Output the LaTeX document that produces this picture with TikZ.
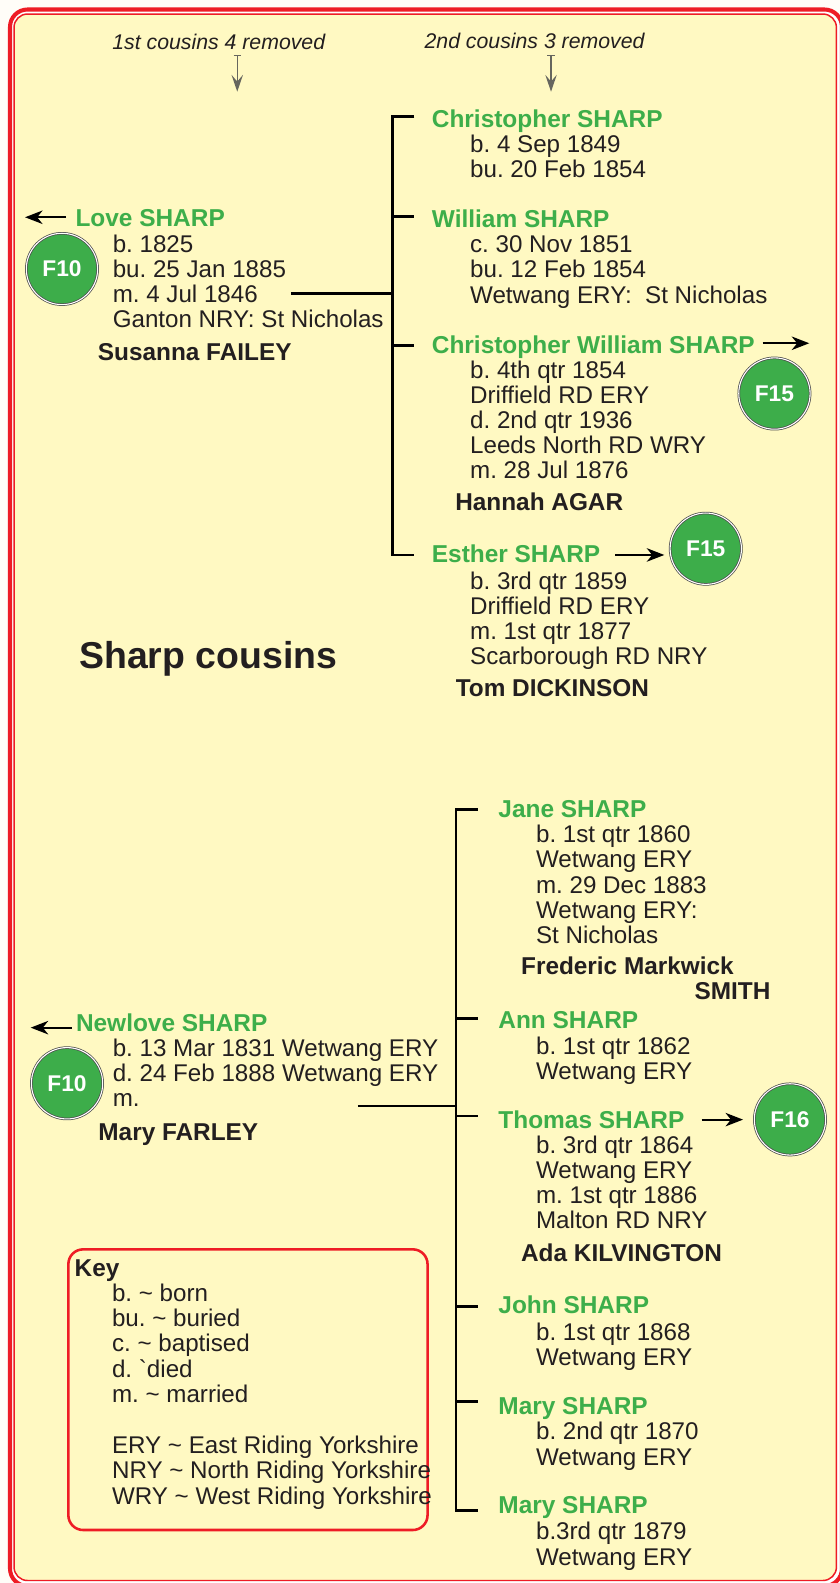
\documentclass[tikz,border=0pt]{standalone}
\usepackage{fontspec}
\setmainfont{Liberation Sans}
\newfontfamily\plainfont{Liberation Sans}
\usetikzlibrary{arrows.meta}
\definecolor{outbg}{HTML}{FFFDF8}
\definecolor{paper}{HTML}{FFF9C2}
\definecolor{bred}{HTML}{EE1C25}
\definecolor{namegreen}{HTML}{3DAE4A}
\definecolor{ink}{HTML}{231F20}
\definecolor{cfill}{HTML}{3DAD4A}
\definecolor{garrow}{HTML}{66665E}
\newcommand{\mylines}[1]{\begin{tabular}[t]{@{}l@{}}#1\end{tabular}}
\frenchspacing
\begin{document}
\frenchspacing
\begin{tikzpicture}[x=0.75pt,y=-0.75pt,
  txt/.style={anchor=base west, inner sep=0pt, outer sep=0pt, text=ink,
    font=\fontsize{17.95pt}{18.7pt}\selectfont},
  namestyle/.style={txt, text=namegreen, font=\fontsize{18.15pt}{18.7pt}\selectfont\bfseries},
  spousestyle/.style={txt, font=\fontsize{18.1pt}{18.7pt}\selectfont\bfseries},
  headstyle/.style={txt, font=\fontsize{15.8pt}{18pt}\selectfont\itshape},
  fcirc/.style={circle, fill=cfill, draw=black!70, double=white, double distance=0.8pt,
    line width=0.55pt, minimum size=53pt, inner sep=0pt, text=white,
    font=\fontsize{16.9pt}{18pt}\selectfont\bfseries},
  bracket/.style={draw=black, line width=1.9pt},
  link/.style={draw=black, line width=1.9pt},
  famarrow/.style={draw=black, line width=1.6pt, -{Stealth[length=13pt,width=10pt,inset=4pt]}},
  genarrow/.style={draw=garrow, line width=1pt,
    {Bar[width=5.5pt]}-{Stealth[length=12.5pt,width=8.5pt,inset=5pt]}}
]
\useasboundingbox (0,0) rectangle (832,1568);
\clip (0,0) rectangle (832,1568);
\fill[outbg] (0,0) rectangle (832,1568);
% border
\filldraw[fill=white, draw=bred, line width=3pt, rounded corners=13pt] (9.9,9.4) rectangle (834,1571);
\filldraw[fill=paper, draw=bred, line width=1.1pt, rounded corners=10pt] (13.9,13.9) rectangle (828.5,1565.5);

% headers
\node[headstyle] (h1) at (111.3,48.9) {1st cousins 4 removed};
\node[headstyle] (h2) at (420.6,47.9) {2nd cousins 3 removed};
\coordinate (h1a) at (235,54.5);
\coordinate (h1b) at (235,90.8);
\coordinate (h2a) at (545.8,54.5);
\coordinate (h2b) at (545.8,90.8);
\draw[genarrow] (h1a) -- (h1b);
\draw[genarrow] (h2a) -- (h2b);

% title
\node[txt, font=\fontsize{27.8pt}{30pt}\selectfont\bfseries] (title) at (78.5,662) {Sharp cousins};

% ---------------- family 1 ----------------
\node[namestyle] (love) at (74.8,224.5) {Love SHARP};
\node[txt] (loved) at (111.7,249.9) {\mylines{b. 1825\\bu. 25 Jan 1885\\m. 4 Jul 1846\\Ganton NRY: St Nicholas}};
\node[spousestyle] (susanna) at (97,357) {Susanna FAILEY};
\node[fcirc] (f10a) at (61.4,266.4) {F10};
\coordinate (lovea) at (65.4,215.2);
\coordinate (loveb) at (24.8,215.2);
\draw[famarrow] (lovea) -- (loveb);

\coordinate (m1) at (288,290.5);
\coordinate (v1) at (389,290.5);
\draw[link] (m1) -- (v1);
\coordinate (b1t) at (389,115.6);
\coordinate (b1b) at (389,549.7);
\draw[bracket] (410.4,115.6) -- (b1t) -- (b1b) -- (410.4,549.7);
\draw[bracket] (389,214.6) -- (410.4,214.6);
\draw[bracket] (389,342.4) -- (410.4,342.4);

\node[namestyle] (chris) at (427.8,126.1) {Christopher SHARP};
\node[txt] (chrisd) at (465.7,151.2) {\mylines{b. 4 Sep 1849\\bu. 20 Feb 1854}};

\node[namestyle] (will) at (427.8,225.2) {William SHARP};
\node[txt] (willd) at (465.7,250.3) {\mylines{c. 30 Nov 1851\\bu. 12 Feb 1854\\Wetwang ERY:\ \ St Nicholas}};

\node[namestyle] (cw) at (427.8,350) {Christopher William SHARP};
\node[txt] (cwd) at (465.7,374.7) {\mylines{b. 4th qtr 1854\\Driffield RD ERY\\d. 2nd qtr 1936\\Leeds North RD WRY\\m. 28 Jul 1876}};
\node[spousestyle] (hannah) at (451,505.2) {Hannah AGAR};
\node[fcirc] (f15a) at (767.1,389.8) {F15};
\coordinate (cwa) at (755.4,340);
\coordinate (cwb) at (801.6,340);
\draw[famarrow] (cwa) -- (cwb);

\node[namestyle] (esther) at (427.8,557.5) {Esther SHARP};
\node[txt] (estherd) at (465.7,583.7) {\mylines{b. 3rd qtr 1859\\Driffield RD ERY\\m. 1st qtr 1877\\Scarborough RD NRY}};
\node[spousestyle] (tom) at (451.5,689.4) {Tom DICKINSON};
\node[fcirc] (f15b) at (699.1,543.5) {F15};
\coordinate (esa) at (609.2,549.7);
\coordinate (esb) at (658,549.7);
\draw[famarrow] (esa) -- (esb);

% ---------------- family 2 ----------------
\node[namestyle] (newlove) at (75.3,1021.9) {Newlove SHARP};
\node[txt] (newloved) at (111.7,1046.6) {\mylines{b. 13 Mar 1831 Wetwang ERY\\d. 24 Feb 1888 Wetwang ERY\\m.}};
\node[spousestyle] (maryf) at (97.5,1129.2) {Mary FARLEY};
\node[fcirc] (f10b) at (66.4,1073) {F10};
\coordinate (nla) at (71,1017.9);
\coordinate (nlb) at (30.4,1017.9);
\draw[famarrow] (nla) -- (nlb);

\coordinate (m2) at (354.6,1095.5);
\coordinate (v2) at (451.7,1095.5);
\draw[link] (m2) -- (v2);
\coordinate (b2t) at (451.7,802);
\coordinate (b2b) at (451.7,1496.3);
\draw[bracket] (473,802) -- (b2t) -- (b2b) -- (473,1496.3);
\draw[bracket] (451.7,1009) -- (473,1009);
\draw[bracket] (451.7,1105.4) -- (473,1105.4);
\draw[bracket] (451.7,1294.2) -- (473,1294.2);
\draw[bracket] (451.7,1388.3) -- (473,1388.3);

\node[namestyle] (jane) at (493.7,809.5) {Jane SHARP};
\node[txt] (janed) at (531,834.7) {\mylines{b. 1st qtr 1860\\Wetwang ERY\\m. 29 Dec 1883\\Wetwang ERY:\\St Nicholas}};
\node[spousestyle] (fred) at (516.2,965.7) {Frederic Markwick};
\node[spousestyle] (smith) at (688,990.5) {SMITH};

\node[namestyle] (ann) at (493.7,1018.5) {Ann SHARP};
\node[txt] (annd) at (531,1044) {\mylines{b. 1st qtr 1862\\Wetwang ERY}};

\node[namestyle] (thomas) at (493.7,1117.6) {Thomas SHARP};
\node[txt] (thomasd) at (531,1142.4) {\mylines{b. 3rd qtr 1864\\Wetwang ERY\\m. 1st qtr 1886\\Malton RD NRY}};
\node[spousestyle] (ada) at (516.2,1249.7) {Ada KILVINGTON};
\node[fcirc] (f16) at (782.5,1108.8) {F16};
\coordinate (tha) at (695,1109);
\coordinate (thb) at (736,1109);
\draw[famarrow] (tha) -- (thb);

\node[namestyle] (john) at (493.7,1301.5) {John SHARP};
\node[txt] (johnd) at (531,1327.9) {\mylines{b. 1st qtr 1868\\Wetwang ERY}};

\node[namestyle] (mary1) at (493.7,1400.6) {Mary SHARP};
\node[txt] (mary1d) at (531,1426.3) {\mylines{b. 2nd qtr 1870\\Wetwang ERY}};

\node[namestyle] (mary2) at (493.7,1499) {Mary SHARP};
\node[txt] (mary2d) at (531,1525.3) {\mylines{b.3rd qtr 1879\\Wetwang ERY}};

% ---------------- key ----------------
\draw[draw=bred, line width=1.9pt, rounded corners=11pt] (67.7,1237.5) rectangle (423.5,1515.5);
\node[spousestyle] (keyt) at (74,1264.5) {Key};
\node[txt] (keya) at (111,1289.3) {\mylines{b. \textasciitilde{} born\\bu. \textasciitilde{} buried\\c. \textasciitilde{} baptised\\d. {\plainfont `}died\\m. \textasciitilde{} married}};
\node[txt] (keyb) at (111,1440) {\mylines{ERY \textasciitilde{} East Riding Yorkshire\\NRY \textasciitilde{} North Riding Yorkshire\\WRY \textasciitilde{} West Riding Yorkshire}};
\end{tikzpicture}
\end{document}
